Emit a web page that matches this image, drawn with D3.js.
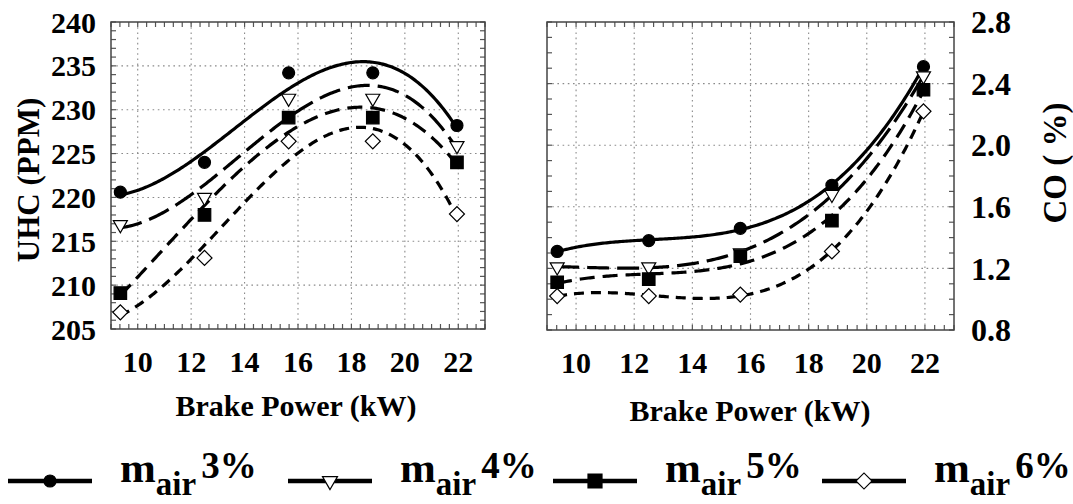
<!DOCTYPE html>
<html><head><meta charset="utf-8">
<script src="https://cdn.jsdelivr.net/npm/d3@7"></script>
<style>
body{margin:0;background:#fff}
svg{display:block}
svg text{font-family:"Liberation Serif","DejaVu Serif","Times New Roman",Times,serif;font-weight:bold;fill:#000}
</style>
</head><body>
<svg id="chart" width="1073" height="504"></svg>
<script>
// ---------------- data ----------------
const brakePower = [9.35, 12.5, 15.65, 18.8, 21.95];
const seriesLabels = ["3%", "4%", "5%", "6%"];
const uhc3 = [220.6, 224.0, 234.2, 234.2, 228.2];
const uhc4 = [216.9, 220.0, 231.3, 231.3, 225.9];
const uhc5 = [209.1, 218.0, 229.1, 229.1, 224.0];
const uhc6 = [206.9, 213.1, 226.4, 226.4, 218.1];
const co3 = [1.31, 1.38, 1.46, 1.74, 2.51];
const co4 = [1.21, 1.21, 1.30, 1.68, 2.45];
const co5 = [1.11, 1.13, 1.28, 1.51, 2.36];
const co6 = [1.02, 1.02, 1.03, 1.31, 2.22];
const xTickLabels = [10, 12, 14, 16, 18, 20, 22];
const uhcTickLabels = [205, 210, 215, 220, 225, 230, 235, 240];
const coTickLabels = [0.8, 1.2, 1.6, 2.0, 2.4, 2.8];

// ---------------- styles ----------------
const FONT = "'Liberation Serif','DejaVu Serif','Times New Roman',Times,serif";
const dashes = [null, "22,8", "15,8", "10,7"];
const markerTypes = ["circle", "triangle", "square", "diamond"];

const svg = d3.select("#chart");

// cubic least-squares trend line (as in the original polynomial fit)
function polyFit(xs, ys, deg) {
  const m = d3.mean(xs), s = (d3.max(xs) - d3.min(xs)) / 2;
  const t = xs.map(x => (x - m) / s);
  const n = deg + 1;
  const A = Array.from({length: n}, () => new Array(n + 1).fill(0));
  for (let i = 0; i < t.length; i++) {
    for (let r = 0; r < n; r++) {
      for (let c = 0; c < n; c++) A[r][c] += Math.pow(t[i], r + c);
      A[r][n] += ys[i] * Math.pow(t[i], r);
    }
  }
  for (let c = 0; c < n; c++) {
    let p = c;
    for (let r = c + 1; r < n; r++) if (Math.abs(A[r][c]) > Math.abs(A[p][c])) p = r;
    [A[c], A[p]] = [A[p], A[c]];
    for (let r = 0; r < n; r++) {
      if (r === c) continue;
      const f = A[r][c] / A[c][c];
      for (let k = c; k <= n; k++) A[r][k] -= f * A[c][k];
    }
  }
  const coef = A.map((row, i) => row[n] / row[i]);
  return x => { const u = (x - m) / s; return coef.reduce((acc, c, i) => acc + c * Math.pow(u, i), 0); };
}

function marker(g, type, x, y, size) {
  let sym, rot = 0, fill = "#000";
  if (type === "circle") sym = d3.symbolCircle;
  if (type === "square") sym = d3.symbolSquare;
  if (type === "triangle") { sym = d3.symbolTriangle; rot = 180; fill = "#fff"; }
  if (type === "diamond") { sym = d3.symbolSquare; rot = 45; fill = "#fff"; }
  const area = {circle: Math.PI * size * size / 4, square: size * size,
    triangle: size * size * 0.433, diamond: size * size * 0.5}[type];
  g.append("path")
    .attr("d", d3.symbol().type(sym).size(area)())
    .attr("transform", `translate(${x},${y}) rotate(${rot})`)
    .attr("fill", fill).attr("stroke", "#000").attr("stroke-width", 1.2);
}

function txt(g) {
  return g.append("text").attr("font-family", FONT).attr("font-weight", "bold");
}

function panel(opts) {
  const {x0, x1, y0, y1, yDomain, yMinorStep, series, yTicks, yFmt, ySide, yFont} = opts;
  const x = d3.scaleLinear().domain([9, 23]).range([x0, x1]);
  const y = d3.scaleLinear().domain(yDomain).range([y1, y0]);
  const g = svg.append("g");

  // grid
  const grid = g.append("g").attr("stroke", "#8a8a8a").attr("stroke-width", 1.1)
    .attr("stroke-dasharray", "1.6,3.6");
  xTickLabels.forEach(v => grid.append("line").attr("x1", x(v)).attr("x2", x(v)).attr("y1", y0).attr("y2", y1));
  yTicks.forEach(v => { if (v > yDomain[0] && v < yDomain[1]) grid.append("line").attr("x1", x0).attr("x2", x1).attr("y1", y(v)).attr("y2", y(v)); });

  // minor ticks all four sides
  const tk = g.append("g").attr("stroke", "#555").attr("stroke-width", 1.2);
  const xMinor = d3.range(0, 43).map(k => 9 + k / 3);
  xMinor.forEach(v => {
    tk.append("line").attr("x1", x(v)).attr("x2", x(v)).attr("y1", y1).attr("y2", y1 - 5);
    tk.append("line").attr("x1", x(v)).attr("x2", x(v)).attr("y1", y0).attr("y2", y0 + 5);
  });
  const nY = Math.round((yDomain[1] - yDomain[0]) / yMinorStep);
  d3.range(0, nY + 1).map(k => yDomain[0] + k * yMinorStep).forEach(v => {
    tk.append("line").attr("x1", x0).attr("x2", x0 + 5).attr("y1", y(v)).attr("y2", y(v));
    tk.append("line").attr("x1", x1).attr("x2", x1 - 5).attr("y1", y(v)).attr("y2", y(v));
  });

  // frame
  g.append("rect").attr("x", x0).attr("y", y0).attr("width", x1 - x0).attr("height", y1 - y0)
    .attr("fill", "none").attr("stroke", "#444").attr("stroke-width", 1.5);

  // x tick labels
  xTickLabels.forEach(v => txt(g).attr("x", x(v)).attr("y", y1 + 43)
    .attr("text-anchor", "middle").attr("font-size", 30).text(v));

  // y tick labels
  yTicks.forEach(v => txt(g)
    .attr("x", ySide === "left" ? x0 - 15 : x1 + 17)
    .attr("y", y(v)).attr("dy", "0.35em")
    .attr("text-anchor", ySide === "left" ? "end" : "start")
    .attr("font-size", yFont).text(yFmt(v)));

  // curves + markers
  const xs = d3.range(0, 201).map(i => brakePower[0] + (brakePower[4] - brakePower[0]) * i / 200);
  series.forEach((vals, si) => {
    const f = polyFit(brakePower, vals, 3);
    const line = d3.line().x(d => x(d)).y(d => y(f(d)));
    g.append("path").attr("d", line(xs)).attr("fill", "none").attr("stroke", "#000")
      .attr("stroke-width", 3.2).attr("stroke-dasharray", dashes[si]);
  });
  series.forEach((vals, si) => {
    vals.forEach((v, i) => marker(g, markerTypes[si], x(brakePower[i]), y(v),
      {circle: 12, triangle: 14, square: 12.5, diamond: 15}[markerTypes[si]]));
  });
  return {x, y};
}

panel({x0: 111, x1: 485, y0: 22, y1: 329, yDomain: [205, 240], yMinorStep: 1,
  series: [uhc3, uhc4, uhc5, uhc6], yTicks: uhcTickLabels, yFmt: d => d, ySide: "left", yFont: 30});
panel({x0: 547, x1: 954, y0: 22, y1: 330, yDomain: [0.8, 2.8], yMinorStep: 0.1,
  series: [co3, co4, co5, co6], yTicks: coTickLabels, yFmt: d3.format(".1f"), ySide: "right", yFont: 32});

// axis titles
txt(svg).attr("x", 296).attr("y", 416).attr("text-anchor", "middle").attr("font-size", 30).text("Brake Power (kW)");
txt(svg).attr("x", 750).attr("y", 421).attr("text-anchor", "middle").attr("font-size", 30).text("Brake Power (kW)");
txt(svg).attr("transform", "translate(28,180) rotate(-90)").attr("dy", "0.35em")
  .attr("text-anchor", "middle").attr("font-size", 31).text("UHC (PPM)");
txt(svg).attr("transform", "translate(1054,163) rotate(-90)").attr("dy", "0.35em")
  .attr("text-anchor", "middle").attr("font-size", 33).text("CO ( %)");

// legend
const legendX = [8, 288, 553, 822];
const lg = svg.append("g");
seriesLabels.forEach((lab, i) => {
  const lx = legendX[i], ly = 481;
  lg.append("line").attr("x1", lx).attr("x2", lx + 84).attr("y1", ly).attr("y2", ly)
    .attr("stroke", "#000").attr("stroke-width", 4.5);
  marker(lg, markerTypes[i], lx + 42, ly, {circle: 12, triangle: 15, square: 14, diamond: 16}[markerTypes[i]]);
  const t = txt(lg).attr("x", lx + 112).attr("y", 482);
  t.append("tspan").attr("font-size", 43).text("m");
  t.append("tspan").attr("font-size", 33).attr("dy", 13).text("air");
  t.append("tspan").attr("font-size", 37).attr("dy", -17).attr("dx", 5).text(lab);
});
</script>
</body></html>
